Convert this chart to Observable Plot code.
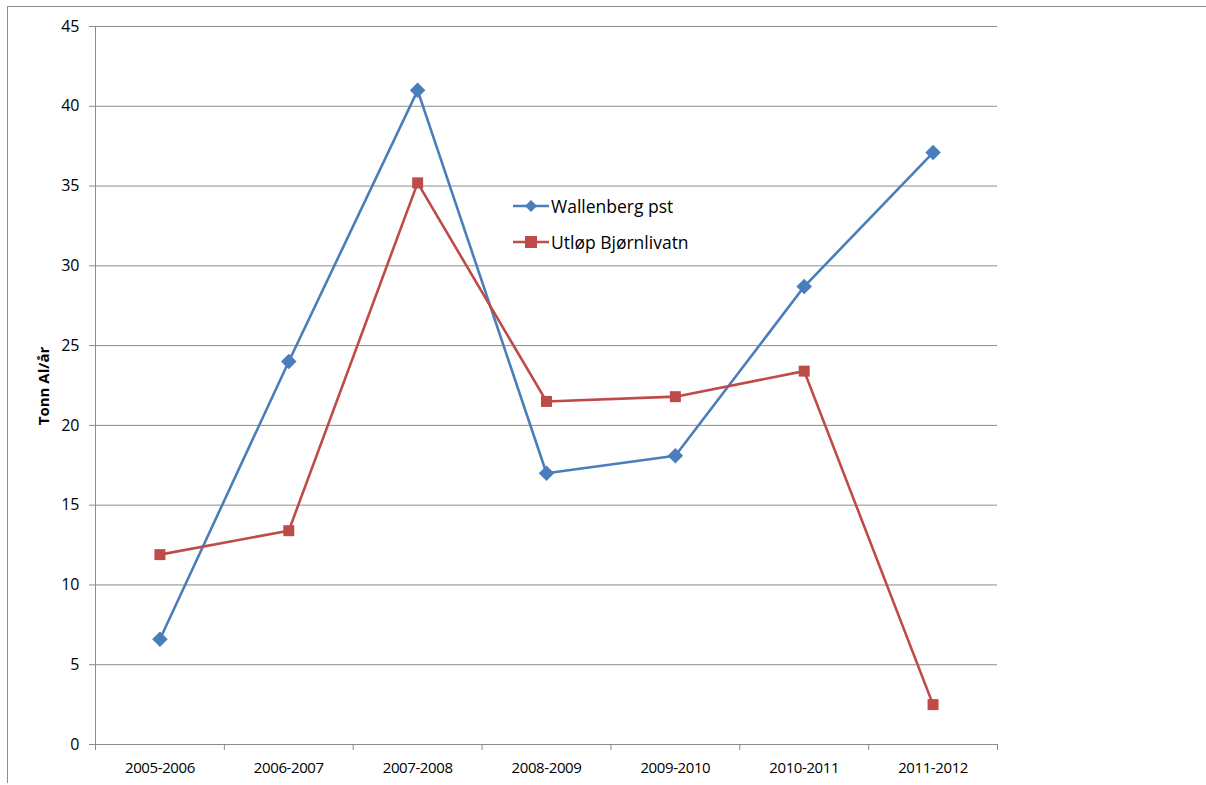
<!DOCTYPE html>
<html>
<head>
<meta charset="utf-8">
<script src="https://cdn.jsdelivr.net/npm/d3@7"></script>
<script src="https://cdn.jsdelivr.net/npm/@observablehq/plot@0.6"></script>
<style>
  html, body { margin: 0; padding: 0; background: #fff; }
  #wrap { position: relative; width: 1206px; height: 785px; overflow: hidden; font-family: "Open Sans", "DejaVu Sans", sans-serif; }
  #frame { position: absolute; left: 7px; top: 6px; width: 1300px; height: 777px; border-top: 1.5px solid #8c8c8c; border-left: 1.5px solid #8c8c8c; box-sizing: border-box; pointer-events: none; }
  #chart { position: absolute; left: 0; top: 0; }
  #legend { position: absolute; left: 513px; top: 195px; font-size: 17.5px; color: #000; }
  #legend .item { display: flex; align-items: center; height: 22px; margin-bottom: 14px; }
  #legend svg { margin-right: 2px; }
  #ytitle { position: absolute; left: 43px; top: 386px; transform: translate(-50%, -50%) rotate(-90deg); font-weight: bold; font-size: 15px; white-space: nowrap; }
</style>
</head>
<body>
<div id="wrap">
  <div id="chart"></div>
  <div id="frame"></div>
  <div id="ytitle">Tonn Al/år</div>
  <div id="legend"></div>
</div>
<script>
const categories = ["2005-2006", "2006-2007", "2007-2008", "2008-2009", "2009-2010", "2010-2011", "2011-2012"];
const seriesNames = ["Wallenberg pst", "Utløp Bjørnlivatn"];
const wallenberg = [6.6, 24.0, 41.0, 17.0, 18.1, 28.7, 37.1];
const bjornlivatn = [11.9, 13.4, 35.2, 21.5, 21.8, 23.4, 2.5];
const yTicks = [0, 5, 10, 15, 20, 25, 30, 35, 40, 45];
const colors = ["#4a7ebb", "#be4b48"];

// square diamond (rotated square) symbol
const squareDiamond = {
  draw(context, size) {
    const r = Math.sqrt(size / 2);
    context.moveTo(0, -r);
    context.lineTo(r, 0);
    context.lineTo(0, r);
    context.lineTo(-r, 0);
    context.closePath();
  }
};

const rows = [];
[wallenberg, bjornlivatn].forEach((vals, s) => {
  vals.forEach((v, i) => rows.push({series: seriesNames[s], i: i + 0.5, cat: categories[i], value: v}));
});
const boundaries = d3.range(categories.length + 1);
const centers = categories.map((c, i) => i + 0.5);

const chart = Plot.plot({
  width: 1206,
  height: 785,
  marginLeft: 95,
  marginRight: 209,
  marginTop: 26,
  marginBottom: 41,
  style: {fontFamily: "'Open Sans', 'DejaVu Sans', sans-serif", background: "transparent"},
  x: {type: "linear", domain: [0, categories.length], axis: null},
  y: {domain: [0, 45], axis: null},
  color: {domain: seriesNames, range: colors},
  symbol: {domain: seriesNames, range: [squareDiamond, d3.symbolSquare]},
  marks: [
    Plot.ruleY(yTicks, {stroke: "#8c8c8c", strokeWidth: 1}),
    Plot.ruleX([0], {stroke: "#8c8c8c", strokeWidth: 1}),
    Plot.axisY({ticks: yTicks, tickSize: 6, tickPadding: 10, stroke: "#8c8c8c", fill: "#000", fontSize: 16, label: null}),
    Plot.axisX({ticks: boundaries, tickSize: 6, tickFormat: () => "", stroke: "#8c8c8c", label: null}),
    Plot.axisX({ticks: centers, tickSize: 0, tickPadding: 18, tickFormat: (d) => categories[Math.round(d - 0.5)], fill: "#000", fontSize: 15, label: null}),
    Plot.line(rows, {x: "i", y: "value", z: "series", stroke: "series", strokeWidth: 2.6}),
    Plot.dot(rows, {x: "i", y: "value", fill: "series", symbol: "series", r: 6.2, stroke: "none"})
  ]
});
document.getElementById("chart").appendChild(chart);
chart.querySelectorAll("text").forEach(t => {
  const s = t.textContent.trim();
  t.style.fill = "#000";
  if (/^\d+$/.test(s)) t.style.fontSize = "16px";
  else if (/^\d{4}-\d{4}$/.test(s)) { t.style.fontSize = "15px"; t.style.letterSpacing = "-0.4px"; }
});

const legend = document.getElementById("legend");
seriesNames.forEach((name, s) => {
  const item = document.createElement("div");
  item.className = "item";
  const shape = s === 0
    ? `<path d="M18,4 L24,10 L18,16 L12,10 Z" fill="${colors[s]}"/>`
    : `<rect x="12" y="4" width="12" height="12" fill="${colors[s]}"/>`;
  item.innerHTML = `<svg width="36" height="20"><line x1="0" y1="10" x2="36" y2="10" stroke="${colors[s]}" stroke-width="2.6"/>${shape}</svg><span>${name}</span>`;
  legend.appendChild(item);
});
</script>
</body>
</html>
